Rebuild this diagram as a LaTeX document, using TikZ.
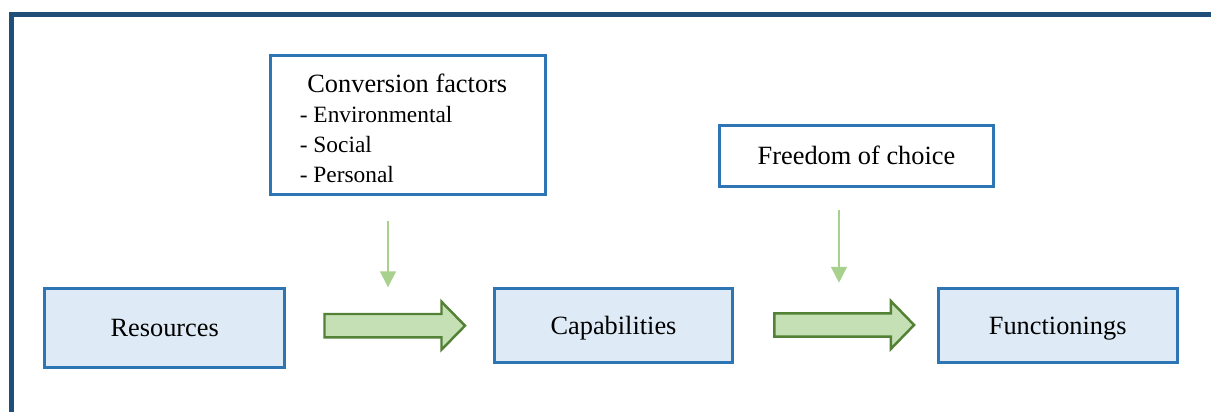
\documentclass[tikz,border=0pt]{standalone}
\usepackage{fontspec}
\setmainfont{Liberation Serif}
\usepackage{xcolor}
\usepackage{tikz}
\usetikzlibrary{positioning,calc,arrows.meta}

\definecolor{framecol}{RGB}{31,78,121}
\definecolor{boxcol}{RGB}{46,117,182}
\definecolor{boxfill}{RGB}{222,235,247}
\definecolor{greenfill}{RGB}{197,224,180}
\definecolor{greenline}{RGB}{83,129,53}
\definecolor{lightgreen}{RGB}{169,209,142}

\begin{document}
\begin{tikzpicture}[x=0.02cm,y=-0.02cm,
    font=\fontsize{15}{18}\selectfont,
    framebox/.style={draw=framecol,line width=2.8pt},
    factorbox/.style={draw=boxcol,line width=1.7pt,fill=white,inner sep=0pt,text height=10pt,text depth=0pt},
    stagebox/.style={draw=boxcol,line width=1.7pt,fill=boxfill,inner sep=0pt,minimum width=4.78cm,minimum height=1.47cm,text height=10.2pt,text depth=0pt},
    listitem/.style={anchor=base west,inner sep=0pt,font=\fontsize{13.3}{16}\selectfont},
    blockarrow/.style={draw=greenline,fill=greenfill,line width=1.4pt,line join=miter},
    thinarrow/.style={draw=lightgreen,line width=0.85pt,-{Triangle[width=9pt,length=9pt]}}]
    \useasboundingbox (0,0) rectangle (1211,412);

    % Outer frame (runs off the page)
    \begin{scope}
        \clip (0,0) rectangle (1211,412);
        \draw[framebox] (11.7,14.5) rectangle (1260,460);
    \end{scope}

    % Stages
    \node[stagebox,minimum height=1.57cm,minimum width=4.79cm] (res) at (164.7,328) {Resources};
    \node[stagebox] (cap) at (613.5,325.7) {Capabilities};
    \node[stagebox] (fun) at (1057.7,325.7) {Functionings};

    % Conversion factors
    \node[factorbox,minimum width=5.5cm,minimum height=2.77cm] (conv) at (408.3,124.8) {};
    \node[anchor=base] (convtitle) at (407.3,92.7) {Conversion factors};
    \node[listitem] (env) at (299.5,122.7) {- Environmental};
    \node[listitem] (soc) at (299.5,152.7) {- Social};
    \node[listitem] (pers) at (299.5,182.7) {- Personal};

    % Freedom of choice
    \node[factorbox,minimum width=5.48cm,minimum height=1.23cm] (free) at (856.5,156.2) {Freedom of choice};

    % Thin arrows
    \coordinate (conv-tail) at (388,221);
    \coordinate (conv-tip) at (388,287.3);
    \draw[thinarrow] (conv-tail) -- (conv-tip);
    \coordinate (free-tail) at (839,210);
    \coordinate (free-tip) at (839,282.7);
    \draw[thinarrow] (free-tail) -- (free-tip);

    % Block arrows
    \coordinate (ba1) at (324.5,325.7);
    \draw[blockarrow] (ba1) ++(0,-11.7) -- ++(117,0) -- ++(0,-12.3) -- ++(23.5,24)
        -- ++(-23.5,24) -- ++(0,-12.3) -- ++(-117,0) -- cycle;
    \coordinate (ba2) at (774.3,325);
    \draw[blockarrow] (ba2) ++(0,-11.7) -- ++(116.5,0) -- ++(0,-12.3) -- ++(23.3,24)
        -- ++(-23.3,24) -- ++(0,-12.3) -- ++(-116.5,0) -- cycle;

\end{tikzpicture}
\end{document}
